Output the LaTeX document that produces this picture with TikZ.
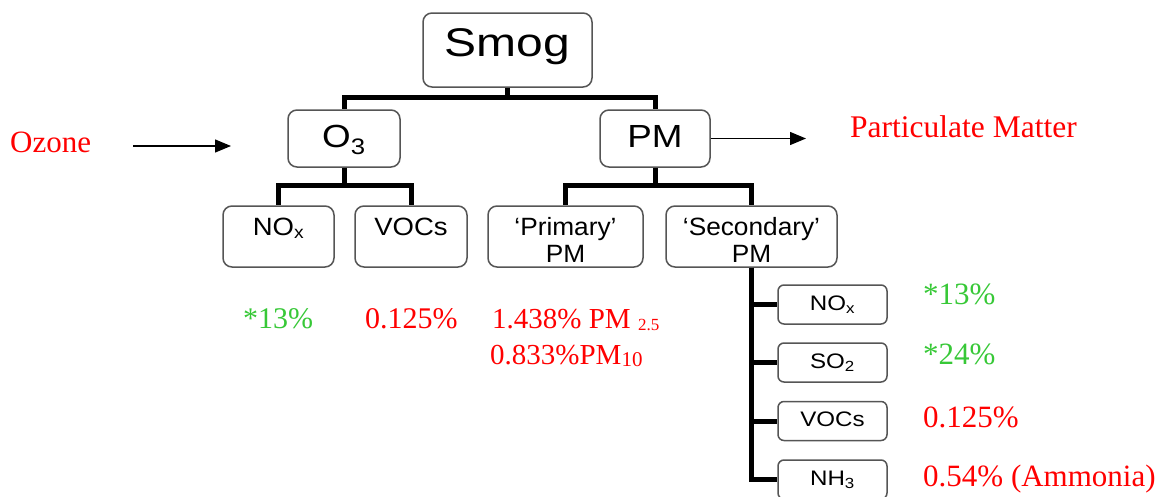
\documentclass[tikz,border=0pt]{standalone}
\usepackage{fontspec}
\setmainfont{Liberation Serif}
\setsansfont{Liberation Sans}
\usepackage{graphicx}
\usetikzlibrary{arrows.meta}

\definecolor{boxline}{RGB}{85,85,85}
\definecolor{notered}{RGB}{255,0,0}
\definecolor{notegreen}{RGB}{55,200,55}

% font size helper and slightly widened sans lettering
\newcommand{\fsz}[1]{\fontsize{#1}{#1}\selectfont}
\newcommand{\wide}[2][1.15]{\scalebox{#1}[1]{#2}}
\newcommand{\twolines}[2]{\begin{tabular}[b]{@{}c@{}}#1\\#2\end{tabular}}

\begin{document}
\begin{tikzpicture}[x=1pt,y=-1pt,
  box/.style={draw=boxline, line width=1.5pt, rounded corners=9pt, fill=white, inner sep=0pt},
  smallbox/.style={box, rounded corners=6pt, minimum width=109pt, minimum height=39pt},
  midbox/.style={box, minimum height=61pt},
  boxtext/.style={inner sep=0pt, anchor=base, font=\sffamily},
  tree/.style={line width=5pt, line join=miter},
  note/.style={inner sep=0pt, anchor=base west, font=\rmfamily},
  pointer/.style={line width=1.3pt, -{Triangle[length=16pt,width=13pt]}}
]
\useasboundingbox (0,0) rectangle (1162,496);

% ---- boxes ----
\node[box, minimum width=169pt, minimum height=74pt] (smog) at (507.5,50) {};
\node[box, minimum width=112pt, minimum height=57pt] (o3) at (344,138.5) {};
\node[box, minimum width=110pt, minimum height=57pt] (pm) at (655,138.5) {};

\node[midbox, minimum width=111pt] (nox) at (278.5,236.5) {};
\node[midbox, minimum width=112pt] (voc) at (411,236.5) {};
\node[midbox, minimum width=155pt] (prim) at (565.5,236.5) {};
\node[midbox, minimum width=171pt] (sec) at (751.5,236.5) {};

\node[smallbox] (s1) at (832.5,304.5) {};
\node[smallbox] (s2) at (832.5,362.5) {};
\node[smallbox] (s3) at (832.5,421) {};
\node[smallbox] (s4) at (832.5,479.5) {};

% ---- box lettering ----
\node[boxtext] (smog-t) at ([yshift=-6pt]smog.center) {\fsz{40}\wide[1.2]{Smog}};
\node[boxtext] (o3-t) at ([yshift=-8.5pt]o3.center) {\fsz{32}\wide{O\textsubscript{3}}};
\node[boxtext] (pm-t) at ([yshift=-8.5pt]pm.center) {\fsz{32}\wide{PM}};

\node[boxtext] (nox-t) at ([yshift=1.5pt]nox.center) {\fsz{25}\wide[1.1]{NO\textsubscript{x}}};
\node[boxtext] (voc-t) at ([yshift=1.5pt]voc.center) {\fsz{25}\wide[1.1]{VOCs}};
\node[boxtext] (prim-t) at ([yshift=-25.5pt]prim.center)
  {\fontsize{25}{27}\selectfont\wide[1.05]{\twolines{‘Primary’}{PM}}};
\node[boxtext] (sec-t) at ([yshift=-25.5pt]sec.center)
  {\fontsize{25}{27}\selectfont\wide[1.05]{\twolines{‘Secondary’}{PM}}};

\node[boxtext] (s1-t) at ([yshift=-5.5pt]s1.center) {\fsz{21}\wide{NO\textsubscript{x}}};
\node[boxtext] (s2-t) at ([yshift=-5.5pt]s2.center) {\fsz{21}\wide{SO\textsubscript{2}}};
\node[boxtext] (s3-t) at ([yshift=-5.5pt]s3.center) {\fsz{21}\wide{VOCs}};
\node[boxtext] (s4-t) at ([yshift=-5.5pt]s4.center) {\fsz{21}\wide{NH\textsubscript{3}}};

% ---- tree connectors ----
\draw[tree] (smog.south) -- ++(0,10) -| (o3.north);
\draw[tree] (smog.south) -- ++(0,10) -| (pm.north);
\draw[tree] (o3.south) -- ++(0,18) -| (nox.north);
\draw[tree] (o3.south) -- ++(0,18) -| (voc.north);
\draw[tree] (pm.south) -- ++(0,18) -| (prim.north);
\draw[tree] (pm.south) -- ++(0,18) -| (sec.north);
\draw[tree] (sec.south) |- (s1.west);
\draw[tree] (sec.south) |- (s2.west);
\draw[tree] (sec.south) |- (s3.west);
\draw[tree] (sec.south) |- (s4.west);

% ---- side notes and pointers ----
\node[note, text=notered] (ozone) at (10,152) {\fsz{31}Ozone};
\coordinate (oz-tail) at (133,146);
\coordinate (oz-head) at (231,146);
\draw[pointer] (oz-tail) -- (oz-head);

\coordinate (pm-head) at (806,138.5);
\draw[pointer] (pm.east) -- (pm-head);
\node[note, text=notered] (partmat) at (850,137) {\fsz{31.5}Particulate Matter};

% ---- shares ----
\node[note, text=notegreen] (nox-v) at (243,328) {\fsz{30}*13\%};
\node[note, text=notered] (voc-v) at (365,328) {\fsz{30}0.125\%};
\node[note, text=notered] (pm25-v) at (492,328)
  {\fsz{29}1.438\% PM \raisebox{-2pt}{\fsz{17}2.5}};
\node[note, text=notered] (pm10-v) at (490,364)
  {\fsz{29}0.833\%PM\raisebox{-2pt}{\fsz{21}10}};

\node[note, text=notegreen] (s1-v) at (923,304) {\fsz{31}*13\%};
\node[note, text=notegreen] (s2-v) at (923,364) {\fsz{31}*24\%};
\node[note, text=notered] (s3-v) at (923,427) {\fsz{31}0.125\%};
\node[note, text=notered] (s4-v) at (923,486) {\fsz{31}0.54\% (Ammonia)};
\end{tikzpicture}
\end{document}
